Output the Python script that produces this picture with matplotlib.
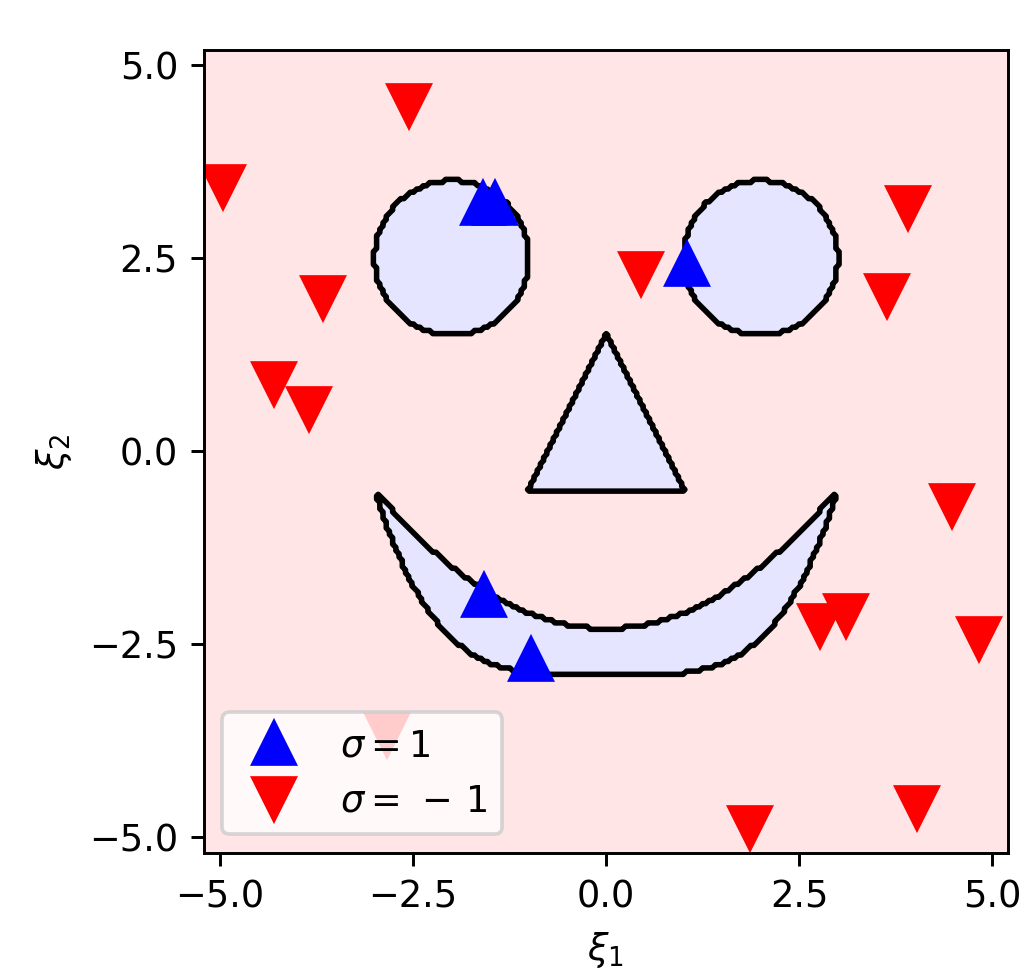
import numpy as np
import matplotlib.pyplot as plt

# sample points
pos_x = [-1.60, -1.44, 1.05, -1.58, -0.98]
pos_y = [3.21, 3.21, 2.42, -1.86, -2.69]

neg_x = [-2.56, -4.96, 3.91, 0.45, 3.64, -3.67, -4.30, -3.85,
         4.48, 2.77, 3.10, 4.83, -2.84, 1.86, 4.03]
neg_y = [4.46, 3.41, 3.15, 2.29, 2.00, 1.98, 0.87, 0.54,
         -0.71, -2.26, -2.13, -2.44, -3.67, -4.88, -4.62]

# face shapes
eye_centers = [(-2.0, 2.5), (2.0, 2.5)]
eye_radius = 1.0
nose = [(-1.0, -0.5), (1.0, -0.5), (0.0, 1.5)]
mouth_halfwidth = 3.0
mouth_top = (-2.3, 0.2)      # y = a + b*x^2
mouth_bottom = (-2.9, 2.4)   # y = a + b*(x/3)^4

LIM = 5.2


def in_triangle(X, Y, tri):
    (x1, y1), (x2, y2), (x3, y3) = tri
    d1 = (X - x2) * (y1 - y2) - (x1 - x2) * (Y - y2)
    d2 = (X - x3) * (y2 - y3) - (x2 - x3) * (Y - y3)
    d3 = (X - x1) * (y3 - y1) - (x3 - x1) * (Y - y1)
    neg = (d1 < 0) | (d2 < 0) | (d3 < 0)
    pos = (d1 > 0) | (d2 > 0) | (d3 > 0)
    return ~(neg & pos)


def face(X, Y):
    inside = np.zeros_like(X, dtype=bool)
    for cx, cy in eye_centers:
        inside |= (X - cx) ** 2 + (Y - cy) ** 2 <= eye_radius ** 2
    inside |= in_triangle(X, Y, nose)
    top = mouth_top[0] + mouth_top[1] * X ** 2
    bot = mouth_bottom[0] + mouth_bottom[1] * (X / mouth_halfwidth) ** 4
    inside |= (np.abs(X) <= mouth_halfwidth) & (Y <= top) & (Y >= bot)
    return np.where(inside, 1.0, -1.0)


g = np.linspace(-LIM, LIM, 251)
X, Y = np.meshgrid(g, g)
Z = face(X, Y)

fig = plt.figure(figsize=(1019 / 265, 970 / 265), dpi=265)
ax = fig.add_axes([0.2002, 0.1209, 0.7887, 0.8276])

ax.contourf(X, Y, Z, levels=[-2, 0, 2], colors=['red', 'blue'], alpha=0.1)
ax.contour(X, Y, Z, levels=[0], colors='k', linewidths=1.5)

ax.plot(pos_x, pos_y, '^', color='blue', ms=11.5, ls='none', label=r'$\sigma=1$')
ax.plot(neg_x, neg_y, 'v', color='red', ms=11.5, ls='none', label=r'$\sigma=\,-\,1$')

ax.set_xlim(-5.21, 5.2)
ax.set_ylim(-5.2, 5.19)
ax.set_xticks([-5, -2.5, 0, 2.5, 5])
ax.set_yticks([-5, -2.5, 0, 2.5, 5])
ax.set_xlabel(r'$\xi_1$')
ax.set_ylabel(r'$\xi_2$')
ax.legend(loc='lower left')

fig.savefig('out.png', dpi=265)
